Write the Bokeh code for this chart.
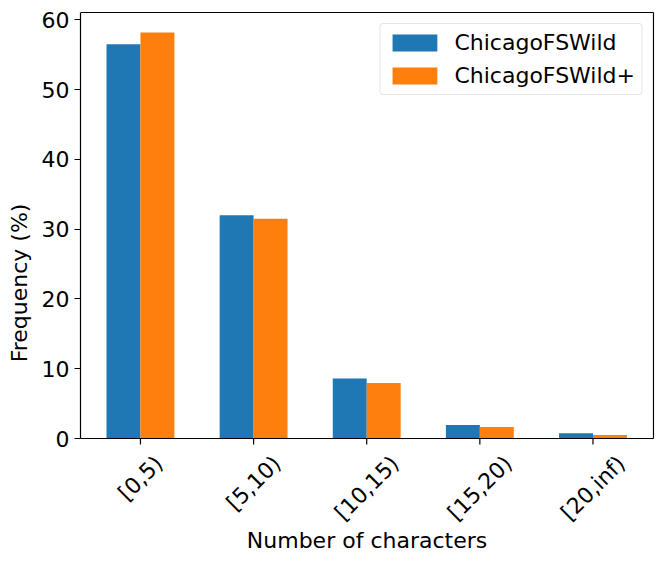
import numpy as np
from bokeh.plotting import figure
from bokeh.models import ColumnDataSource, Range1d, FixedTicker, Legend, LegendItem
from bokeh.core.properties import value
from bokeh.embed import file_html
from bokeh.resources import INLINE

categories = ["[0,5)", "[5,10)", "[10,15)", "[15,20)", "[20,inf)"]
series_names = ["ChicagoFSWild", "ChicagoFSWild+"]
wild = [56.5, 32.0, 8.6, 1.93, 0.77]
wild_plus = [58.2, 31.5, 7.95, 1.65, 0.5]
y_ticks = [0, 10, 20, 30, 40, 50, 60]
x_label = "Number of characters"
y_label = "Frequency (%)"

colors = ["#1f77b4", "#ff7f0e"]
FONT = "DejaVu Sans"
FS_PX = 22
FS = f"{FS_PX}px"

# axes box (data units) and its pixel size
X0, X1 = -0.53, 4.535
Y0, Y1 = 0.0, 61.06
BOX_W, BOX_H = 573, 426
BELOW = 116          # room under the axes box for tick labels and x label
ppx = BOX_W / (X1 - X0)
ppy = BOX_H / (Y1 - Y0)

# approximate DejaVu Sans advance widths (em) for centring rotated tick labels
ADV = {"[": 0.390, ")": 0.390, ",": 0.318, "i": 0.278, "n": 0.634, "f": 0.352}
def text_w(s):
    return sum(ADV.get(ch, 0.636) for ch in s) * FS_PX

idx = np.arange(len(categories))
bar_w = 0.3
src1 = ColumnDataSource(dict(x=idx - bar_w / 2, top=wild))
src2 = ColumnDataSource(dict(x=idx + bar_w / 2, top=wild_plus))

p = figure(
    frame_width=BOX_W + 1, frame_height=BOX_H + 1 + BELOW,
    output_backend="svg", toolbar_location=None, x_axis_location=None,
    x_range=Range1d(X0, X1 + 1 / ppx), y_range=Range1d(Y0 - BELOW / ppy, Y1 + 1 / ppy),
    min_border_left=80, min_border_right=3, min_border_top=11, min_border_bottom=0,
)
p.background_fill_color = "white"
p.border_fill_color = "white"
p.outline_line_color = None
p.grid.visible = False

r1 = p.vbar(x="x", top="top", width=bar_w, source=src1, fill_color=colors[0], line_color=None)
r2 = p.vbar(x="x", top="top", width=bar_w, source=src2, fill_color=colors[1], line_color=None)

# spines (bottom, top, right); the left one is the y axis line
p.segment(x0=[X0, X0, X1], y0=[Y0, Y1, Y0], x1=[X1, X1, X1], y1=[Y0, Y1, Y1],
          line_color="black", line_width=1.2)
# x ticks
p.ray(x=idx, y=np.zeros(len(idx)), length=6, length_units="screen", angle=-np.pi / 2,
      line_color="black", line_width=1.2)

# rotated category labels, bounding box centred under each tick (matplotlib style)
gap = 13.5
lab_y = [-(gap + 0.354 * (text_w(c) + FS_PX)) / ppy for c in categories]
lab_src = ColumnDataSource(dict(x=idx, y=lab_y, text=categories))
p.text(x="x", y="y", text="text", source=lab_src, angle=np.pi / 4,
       text_align="center", text_baseline="middle",
       text_font=value(FONT), text_font_size=value(FS), text_color="black")

# x axis title
p.text(x=[(X0 + X1) / 2], y=[-101.5 / ppy], text=[x_label],
       text_align="center", text_baseline="middle",
       text_font=value(FONT), text_font_size=value(FS), text_color="black")

ax = p.yaxis[0]
ax.ticker = FixedTicker(ticks=y_ticks)
ax.bounds = (Y0, Y1)
ax.axis_line_color = "black"
ax.axis_line_width = 1.2
ax.major_tick_line_color = "black"
ax.major_tick_line_width = 1.2
ax.major_tick_out = 6
ax.major_tick_in = 0
ax.minor_tick_line_color = None
ax.major_label_text_font = FONT
ax.major_label_text_font_size = FS
ax.major_label_text_color = "black"
ax.major_label_standoff = 5
ax.axis_label = y_label
ax.axis_label_text_font = FONT
ax.axis_label_text_font_size = FS
ax.axis_label_text_font_style = "normal"
ax.axis_label_text_color = "black"
ax.axis_label_standoff = 7

legend = Legend(items=[LegendItem(label=series_names[0], renderers=[r1]),
                       LegendItem(label=series_names[1], renderers=[r2])],
                location="top_right")
legend.margin = 12
legend.padding = 6
legend.spacing = 8
legend.glyph_width = 56
legend.glyph_height = 21
legend.label_standoff = 12
legend.label_text_font = FONT
legend.label_text_font_size = FS
legend.label_text_color = "black"
legend.label_height = 24
legend.border_line_color = "#cccccc"
legend.border_line_width = 1
legend.background_fill_alpha = 0.8
if "border_radius" in legend.properties():
    legend.border_radius = 4
p.add_layout(legend)

open("out.html", "w").write(file_html(p, INLINE))
